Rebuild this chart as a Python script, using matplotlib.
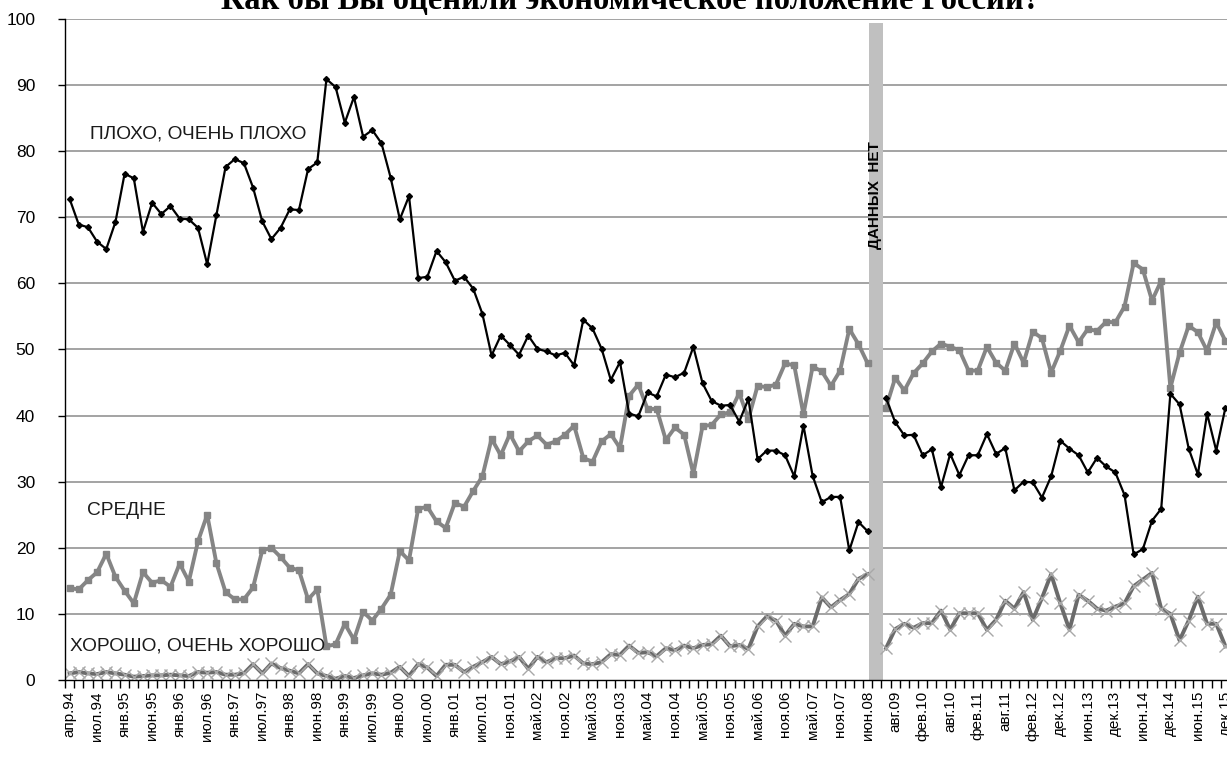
import numpy as np
import matplotlib
matplotlib.use("Agg")
import matplotlib.pyplot as plt
from matplotlib.ticker import FixedLocator, NullFormatter

nan = np.nan

# --- data ---------------------------------------------------------------
tick_labels = ["апр.94", "июл.94", "янв.95", "июн.95", "янв.96", "июл.96", "янв.97",
               "июл.97", "янв.98", "июн.98", "янв.99", "июл.99", "янв.00", "июл.00",
               "янв.01", "июл.01", "ноя.01", "май.02", "ноя.02", "май.03", "ноя.03",
               "май.04", "ноя.04", "май.05", "ноя.05", "май.06", "ноя.06", "май.07",
               "ноя.07", "июн.08", "авг.09", "фев.10", "авг.10", "фев.11", "авг.11",
               "фев.12", "дек.12", "июн.13", "дек.13", "июн.14", "дек.14", "июн.15",
               "дек.15"]

bad = [72.8, 68.9, 68.5, 66.3, 65.2, 69.3, 76.6, 75.9, 67.8, 72.2,
       70.5, 71.7, 69.8, 69.7, 68.4, 62.9, 70.3, 77.6, 78.8, 78.2,
       74.5, 69.4, 66.7, 68.4, 71.2, 71.1, 77.3, 78.3, 90.9, 89.7,
       84.3, 88.2, 82.2, 83.2, 81.2, 76.0, 69.7, 73.2, 60.8, 61.0,
       64.9, 63.2, 60.4, 61.0, 59.2, 55.4, 49.1, 52.1, 50.7, 49.2,
       52.1, 50.1, 49.7, 49.1, 49.5, 47.6, 54.5, 53.2, 50.1, 45.4,
       48.1, 40.3, 39.9, 43.5, 42.9, 46.2, 45.8, 46.5, 50.4, 44.9,
       42.2, 41.5, 41.6, 39.1, 42.5, 33.4, 34.7, 34.7, 34.0, 30.8,
       38.5, 30.9, 26.9, 27.7, 27.7, 19.6, 23.9, 22.5, nan,
       42.7, 39.0, 37.0, 37.1, 34.0, 34.9, 29.2, 34.2, 31.0, 34.0, 34.0,
       37.2, 34.2, 35.1, 28.7, 30.0, 29.9, 27.6, 30.8, 36.2, 35.0,
       34.0, 31.4, 33.6, 32.3, 31.4, 28.0, 19.0, 19.8, 24.1, 25.9,
       43.3, 41.7, 35.0, 31.1, 40.3, 34.7, 41.2]

medium = [13.9, 13.7, 15.1, 16.3, 19.1, 15.6, 13.5, 11.6, 16.3, 14.7,
          15.1, 14.1, 17.6, 14.9, 21.0, 25.0, 17.7, 13.3, 12.2, 12.2,
          14.0, 19.6, 20.0, 18.6, 17.0, 16.6, 12.2, 13.7, 5.1, 5.4,
          8.5, 6.1, 10.3, 9.0, 10.8, 12.9, 19.5, 18.1, 25.9, 26.2,
          24.0, 23.0, 26.8, 26.2, 28.6, 30.8, 36.5, 34.0, 37.2, 34.6,
          36.1, 37.0, 35.6, 36.1, 37.1, 38.5, 33.6, 33.0, 36.1, 37.2,
          35.1, 43.0, 44.7, 41.0, 41.0, 36.3, 38.2, 37.1, 31.2, 38.4,
          38.6, 40.2, 40.5, 43.4, 39.5, 44.5, 44.3, 44.7, 47.9, 47.6,
          40.2, 47.4, 46.7, 44.5, 46.8, 53.1, 50.8, 47.9, nan,
          41.2, 45.7, 43.8, 46.4, 47.9, 49.7, 50.9, 50.4, 49.9, 46.8, 46.8,
          50.4, 48.0, 46.8, 50.9, 48.0, 52.7, 51.7, 46.5, 49.8, 53.6,
          51.1, 53.1, 52.8, 54.2, 54.1, 56.5, 63.1, 62.1, 57.4, 60.4,
          44.2, 49.5, 53.6, 52.6, 49.8, 54.1, 51.3]

good = [1.0, 1.2, 1.0, 0.9, 1.2, 1.0, 0.8, 0.5, 0.6, 0.7,
        0.7, 0.8, 0.7, 0.6, 1.2, 1.1, 1.2, 0.8, 0.8, 1.0,
        2.4, 1.0, 2.5, 1.8, 1.4, 1.0, 2.4, 1.0, 0.6, 0.2,
        0.6, 0.3, 0.7, 1.0, 0.8, 1.1, 2.0, 0.6, 2.4, 1.9,
        0.6, 2.3, 2.3, 1.2, 2.0, 2.7, 3.5, 2.4, 2.8, 3.5,
        1.7, 3.5, 2.7, 3.3, 3.3, 3.7, 2.5, 2.4, 2.7, 3.9,
        3.8, 5.2, 4.1, 4.2, 3.6, 4.8, 4.5, 5.2, 4.8, 5.3,
        5.4, 6.7, 5.1, 5.3, 4.7, 8.1, 9.6, 9.0, 6.7, 8.5,
        8.1, 8.1, 12.5, 11.0, 12.1, 13.0, 15.3, 16.0, nan,
        4.8, 7.7, 8.5, 7.9, 8.6, 8.6, 10.5, 7.6, 10.1, 10.1, 10.1,
        7.6, 9.1, 12.0, 10.8, 13.3, 9.1, 12.4, 16.0, 11.6, 7.6,
        12.9, 12.0, 10.8, 10.5, 11.1, 11.6, 14.2, 15.2, 16.2, 10.8,
        10.0, 6.0, 9.0, 12.6, 8.5, 8.5, 5.1]

gap_index = 88
label_step = 3

# --- figure --------------------------------------------------------------
W, H = 1227, 769
fig = plt.figure(figsize=(W / 100, H / 100), dpi=100)
ax = fig.add_axes([65 / W, 89 / H, 1165 / W, 661 / H])

n = len(bad)
x = np.arange(n)

font = "Liberation Sans"

ax.set_xlim(-0.5, n - 0.5)
ax.set_ylim(0, 100)

# grid
for v in range(10, 101, 10):
    ax.axhline(v, color="#8a8a8a", lw=1.1, zorder=1)

# no data bar
ax.axvspan(gap_index - 0.9, gap_index + 0.63, ymin=0, ymax=0.994,
           color="#c0c0c0", lw=0, zorder=2)
ax.text(gap_index - 0.2, 73.4, "ДАННЫХ  НЕТ", rotation=90, ha="center",
        va="center", fontsize=11, fontweight="bold", family=font,
        color="#000000", zorder=6)

# series
ax.plot(x, good, color="#6b6b6b", lw=2.8, marker="x", markersize=8,
        markeredgecolor="#a8a8a8", markeredgewidth=1.0, zorder=3)
ax.plot(x, medium, color="#858585", lw=2.8, marker="s", markersize=5,
        markerfacecolor="#858585", markeredgecolor="#858585", zorder=4)
ax.plot(x, bad, color="#000000", lw=1.6, marker="D", markersize=3,
        markerfacecolor="#000000", zorder=5)

# series labels
lab_kw = dict(fontsize=13.8, family=font, ha="left", va="baseline",
              color="#1a1a1a", zorder=6)
ax.text(2.2, 81.85, "ПЛОХО, ОЧЕНЬ ПЛОХО", **lab_kw)
ax.text(1.9, 24.96, "СРЕДНЕ", **lab_kw)
ax.text(0.05, 4.4, "ХОРОШО, ОЧЕНЬ ХОРОШО", **lab_kw)

# axes styling
for s in ["top", "right"]:
    ax.spines[s].set_visible(False)
for s in ["left", "bottom"]:
    ax.spines[s].set_color("#000000")
    ax.spines[s].set_linewidth(1.0)
    ax.spines[s].set_zorder(7)

ax.set_yticks(range(0, 101, 10))
ax.set_yticklabels([str(v) for v in range(0, 101, 10)], family=font,
                   fontsize=12.5)
ax.tick_params(axis="y", length=5, width=1, direction="out", pad=16.5,
               colors="#000000")

label_pos = np.arange(0, n, label_step)[:len(tick_labels)]
ax.set_xticks(label_pos)
ax.set_xticklabels(tick_labels, rotation=90, family=font, fontsize=11)
ax.tick_params(axis="x", which="major", length=0, pad=8)
ax.xaxis.set_minor_locator(FixedLocator(np.arange(-0.5, n, 1.0)))
ax.xaxis.set_minor_formatter(NullFormatter())
ax.tick_params(axis="x", which="minor", length=6, width=1, direction="out")

# title (cut off at the top in the reference)
fig.text(0.514, 1 - 9 / H, "Как бы Вы оценили экономическое положение России?",
         ha="center", va="baseline", fontsize=23.5, fontweight="bold",
         family="Liberation Serif")

fig.savefig("out.png", dpi=100)
